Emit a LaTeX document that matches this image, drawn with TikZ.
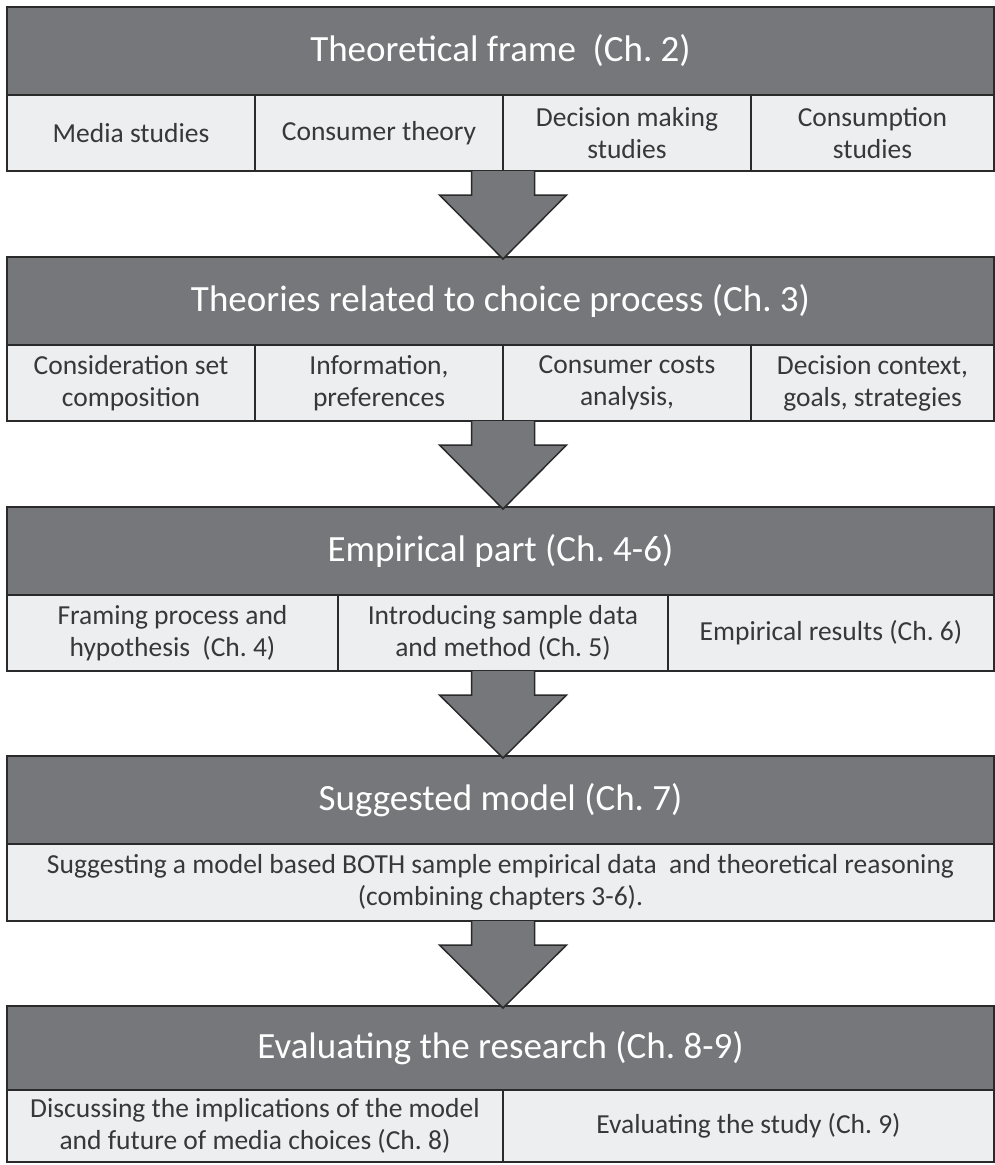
\documentclass[tikz,border=0pt]{standalone}
\usepackage{fontspec}
\setmainfont{Carlito}
\usetikzlibrary{calc}
\frenchspacing

\definecolor{hdrgray}{HTML}{76777B}
\definecolor{cellgray}{HTML}{EDEEF0}
\definecolor{edgecol}{HTML}{2A2A2A}
\definecolor{celltext}{HTML}{383838}

\tikzset{
  hdr/.style={draw=edgecol, line width=1.5pt, fill=hdrgray, text=white,
    font=\fontsize{37}{44}\selectfont, inner sep=0pt, outer sep=0pt,
    anchor=north west, minimum width=987pt, minimum height=88pt},
  cell/.style={draw=edgecol, line width=1.5pt, fill=cellgray, text=celltext,
    font=\fontsize{27.5}{32}\selectfont, align=center, inner sep=0pt,
    outer sep=0pt, anchor=north west, minimum height=76pt},
  flowarrow/.style={draw=edgecol, line width=1.5pt, fill=hdrgray, line join=miter}
}

% block arrow from the bottom edge of #1 down to the top edge of #2
\newcommand\flowdown[2]{%
  \draw[flowarrow] let \p1=(#1.south), \p2=(#2.north) in
    (471.5pt,\y1) -- (471.5pt,\y1-24pt) -- (439.5pt,\y1-24pt)
    -- (503pt,\y2-2pt) -- (566.5pt,\y1-24pt) -- (534.5pt,\y1-24pt)
    -- (534.5pt,\y1);
}

\begin{document}
\begin{tikzpicture}[x=1pt, y=-1pt]
\useasboundingbox (0,0) rectangle (995,1165);

% chapter 2
\node[hdr] (h1) at (7,7) {Theoretical frame\ \ (Ch. 2)};
\node[cell, minimum width=248pt] (a1) at (h1.south west) {Media studies};
\node[cell, minimum width=248pt] (a2) at (a1.north east) {Consumer theory};
\node[cell, minimum width=248pt] (a3) at (a2.north east) {Decision making\\studies};
\node[cell, minimum width=243pt] (a4) at (a3.north east) {Consumption\\studies};

% chapter 3
\node[hdr] (h2) at (7,257) {Theories related to choice process (Ch. 3)};
\node[cell, minimum width=248pt] (b1) at (h2.south west) {Consideration set\\composition};
\node[cell, minimum width=248pt] (b2) at (b1.north east) {Information,\\preferences};
\node[cell, minimum width=248pt] (b3) at (b2.north east) {Consumer costs\\analysis,};
\node[cell, minimum width=243pt] (b4) at (b3.north east) {Decision context,\\goals, strategies};

% chapters 4-6
\node[hdr] (h3) at (7,507) {Empirical part (Ch. 4-6)};
\node[cell, minimum width=331pt] (c1) at (h3.south west) {Framing process and\\hypothesis\ \ (Ch. 4)};
\node[cell, minimum width=330pt] (c2) at (c1.north east) {Introducing sample data\\and method (Ch. 5)};
\node[cell, minimum width=326pt] (c3) at (c2.north east) {Empirical results (Ch. 6)};

% chapter 7
\node[hdr] (h4) at (7,756) {Suggested model (Ch. 7)};
\node[cell, minimum width=987pt, minimum height=77pt] (d1) at (h4.south west)
  {Suggesting a model based BOTH sample empirical data\ \ and theoretical reasoning\\(combining chapters 3-6).};

% chapters 8-9
\node[hdr, minimum height=84pt] (h5) at (7,1006) {Evaluating the research (Ch. 8-9)};
\node[cell, minimum width=496pt, minimum height=72pt] (e1) at (h5.south west)
  {Discussing the implications of the model\\and future of media choices (Ch. 8)};
\node[cell, minimum width=491pt, minimum height=72pt] (e2) at (e1.north east) {Evaluating the study (Ch. 9)};

% arrows between the stages
\flowdown{a1}{h2}
\flowdown{b1}{h3}
\flowdown{c1}{h4}
\flowdown{d1}{h5}
\end{tikzpicture}
\end{document}
